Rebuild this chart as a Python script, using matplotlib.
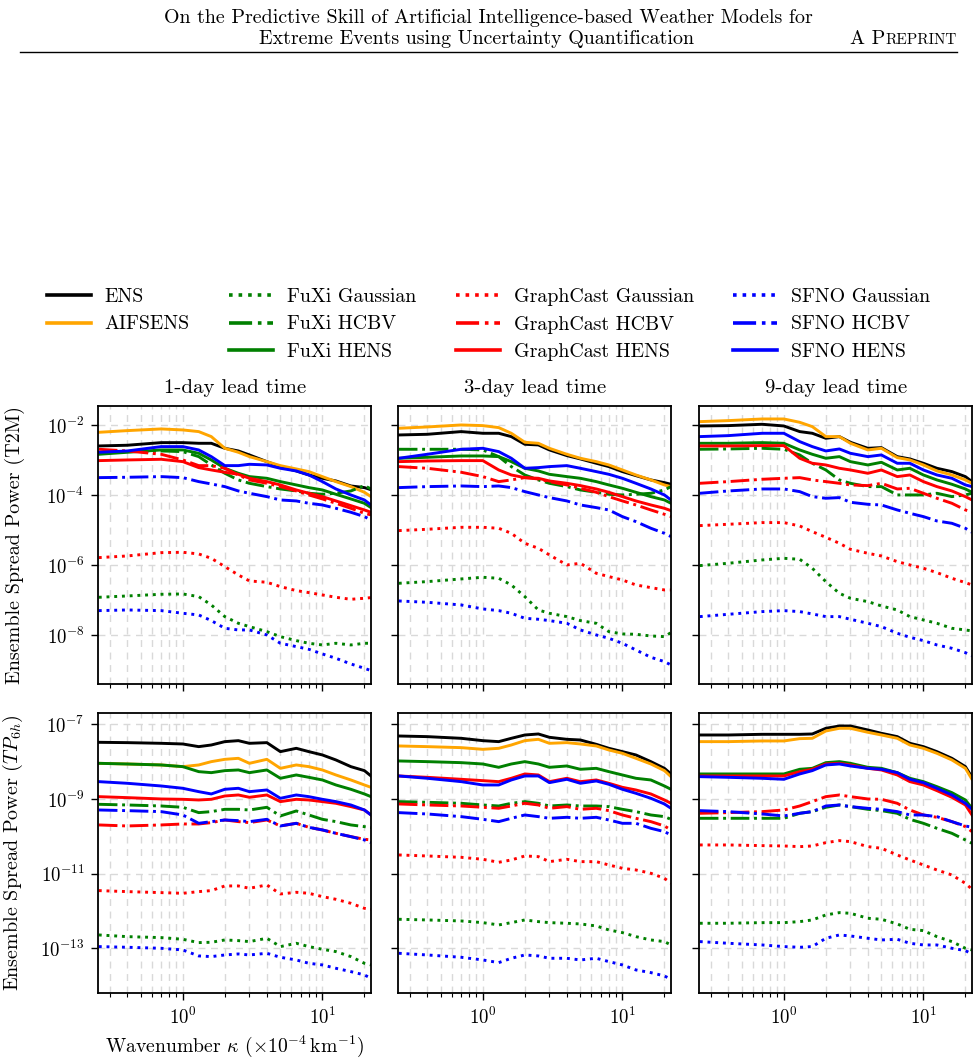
import matplotlib
matplotlib.use("Agg")
import matplotlib.pyplot as plt
from matplotlib.lines import Line2D
import numpy as np

plt.rcParams['font.family'] = ['cmr10', 'DejaVu Serif']
plt.rcParams['mathtext.fontset'] = 'cm'
plt.rcParams['axes.formatter.use_mathtext'] = True
plt.rcParams['axes.unicode_minus'] = False

# ---------------- data (log10 of ensemble spread power) ----------------
wavenumber = [0.25, 0.4, 0.7, 1.0, 1.3, 1.6, 2.0, 2.5, 3.0, 4.0, 5.0, 6.5, 8.0, 10.0, 12.5, 16.0, 20.0, 22.3]

lead_titles = ["1-day lead time", "3-day lead time", "9-day lead time"]
series_labels = ["ENS", "AIFSENS",
                 "FuXi Gaussian", "FuXi HCBV", "FuXi HENS",
                 "GraphCast Gaussian", "GraphCast HCBV", "GraphCast HENS",
                 "SFNO Gaussian", "SFNO HCBV", "SFNO HENS"]

# T2M, 1-day
t2m_d1_ens = [-2.60, -2.58, -2.505, -2.505, -2.524, -2.524, -2.667, -2.743, -2.857, -3.048, -3.19, -3.314, -3.429, -3.524, -3.6, -3.743, -3.79, -3.85]
t2m_d1_aifs = [-2.21, -2.162, -2.114, -2.143, -2.19, -2.333, -2.667, -2.781, -2.905, -3.048, -3.162, -3.257, -3.333, -3.476, -3.619, -3.762, -3.924, -4.048]
t2m_d1_fuxi_gauss = [-6.924, -6.886, -6.838, -6.829, -6.905, -7.143, -7.476, -7.667, -7.762, -7.905, -8.048, -8.162, -8.238, -8.286, -8.238, -8.286, -8.238, -8.238]
t2m_d1_fuxi_hcbv = [-2.81, -2.762, -2.743, -2.762, -2.905, -3.143, -3.381, -3.571, -3.667, -3.762, -3.829, -3.886, -3.952, -3.981, -3.952, -3.886, -3.733, -3.829]
t2m_d1_fuxi_hens = [-2.838, -2.781, -2.714, -2.714, -2.81, -3.0, -3.238, -3.381, -3.476, -3.524, -3.619, -3.714, -3.79, -3.857, -3.981, -4.114, -4.238, -4.362]
t2m_d1_gc_gauss = [-5.79, -5.743, -5.648, -5.638, -5.686, -5.81, -6.048, -6.286, -6.457, -6.495, -6.619, -6.733, -6.79, -6.857, -6.924, -6.981, -6.952, -6.933]
t2m_d1_gc_hcbv = [-2.695, -2.743, -2.838, -3.0, -3.162, -3.162, -3.238, -3.429, -3.571, -3.667, -3.762, -3.886, -4.0, -4.114, -4.238, -4.381, -4.524, -4.571]
t2m_d1_gc_hens = [-3.019, -3.0, -2.981, -3.048, -3.219, -3.286, -3.352, -3.41, -3.524, -3.619, -3.714, -3.857, -3.952, -4.048, -4.171, -4.305, -4.429, -4.495]
t2m_d1_sfno_gauss = [-7.305, -7.286, -7.305, -7.381, -7.429, -7.59, -7.81, -7.857, -7.857, -8.0, -8.238, -8.333, -8.41, -8.543, -8.667, -8.829, -8.952, -9.019]
t2m_d1_sfno_hcbv = [-3.505, -3.495, -3.476, -3.505, -3.619, -3.686, -3.762, -3.886, -3.952, -4.048, -4.143, -4.171, -4.238, -4.286, -4.381, -4.495, -4.619, -4.714]
t2m_d1_sfno_hens = [-2.781, -2.743, -2.619, -2.619, -2.714, -2.905, -3.162, -3.162, -3.124, -3.143, -3.238, -3.314, -3.429, -3.619, -3.829, -4.0, -4.143, -4.286]

# T2M, 3-day
t2m_d3_ens = [-2.286, -2.267, -2.19, -2.238, -2.238, -2.333, -2.552, -2.571, -2.714, -2.876, -2.971, -3.095, -3.19, -3.333, -3.448, -3.571, -3.648, -3.695]
t2m_d3_aifs = [-2.095, -2.057, -2.0, -2.019, -2.076, -2.238, -2.495, -2.524, -2.667, -2.838, -2.952, -3.048, -3.143, -3.286, -3.429, -3.571, -3.714, -3.762]
t2m_d3_fuxi_gauss = [-6.524, -6.476, -6.4, -6.352, -6.381, -6.571, -6.905, -7.286, -7.381, -7.476, -7.59, -7.667, -7.905, -7.971, -7.981, -8.029, -8.048, -7.933]
t2m_d3_fuxi_hcbv = [-2.695, -2.695, -2.695, -2.714, -2.905, -3.19, -3.429, -3.571, -3.667, -3.762, -3.857, -3.924, -3.981, -4.0, -3.981, -3.952, -3.857, -3.762]
t2m_d3_fuxi_hens = [-2.952, -2.924, -2.886, -2.886, -2.905, -3.048, -3.238, -3.314, -3.41, -3.476, -3.524, -3.619, -3.714, -3.81, -3.924, -4.048, -4.143, -4.238]
t2m_d3_gc_gauss = [-5.019, -4.981, -4.924, -4.924, -4.952, -5.095, -5.381, -5.524, -5.714, -6.0, -5.952, -6.238, -6.333, -6.429, -6.571, -6.648, -6.714, -6.714]
t2m_d3_gc_hcbv = [-3.19, -3.238, -3.352, -3.476, -3.619, -3.571, -3.505, -3.543, -3.619, -3.714, -3.81, -3.924, -4.048, -4.171, -4.286, -4.429, -4.552, -4.619]
t2m_d3_gc_hens = [-3.048, -3.029, -3.019, -3.019, -3.286, -3.429, -3.505, -3.524, -3.6, -3.667, -3.733, -3.829, -3.924, -4.048, -4.171, -4.286, -4.381, -4.448]
t2m_d3_sfno_gauss = [-7.029, -7.067, -7.143, -7.257, -7.305, -7.381, -7.524, -7.552, -7.59, -7.667, -7.857, -8.0, -8.095, -8.238, -8.429, -8.638, -8.762, -8.857]
t2m_d3_sfno_hcbv = [-3.79, -3.762, -3.743, -3.762, -3.743, -3.79, -3.905, -4.0, -4.076, -4.171, -4.286, -4.362, -4.429, -4.619, -4.762, -4.952, -5.095, -5.19]
t2m_d3_sfno_hens = [-2.952, -2.838, -2.695, -2.667, -2.762, -2.952, -3.238, -3.219, -3.19, -3.162, -3.238, -3.333, -3.41, -3.524, -3.667, -3.829, -4.0, -4.143]

# T2M, 9-day
t2m_d9_ens = [-2.029, -2.019, -1.981, -2.029, -2.19, -2.238, -2.381, -2.333, -2.495, -2.667, -2.648, -2.905, -2.971, -3.095, -3.238, -3.333, -3.476, -3.619]
t2m_d9_aifs = [-1.905, -1.876, -1.829, -1.829, -1.924, -2.048, -2.333, -2.333, -2.524, -2.714, -2.667, -2.933, -3.0, -3.143, -3.314, -3.429, -3.571, -3.667]
t2m_d9_fuxi_gauss = [-6.019, -5.952, -5.857, -5.81, -5.838, -6.095, -6.476, -6.81, -6.952, -7.048, -7.171, -7.286, -7.476, -7.571, -7.667, -7.81, -7.857, -7.886]
t2m_d9_fuxi_hcbv = [-2.695, -2.686, -2.667, -2.695, -2.857, -3.095, -3.286, -3.571, -3.667, -3.762, -3.762, -4.0, -4.0, -4.0, -3.952, -4.048, -4.0, -3.952]
t2m_d9_fuxi_hens = [-2.524, -2.524, -2.505, -2.524, -2.714, -2.838, -2.952, -2.905, -3.048, -3.143, -3.067, -3.286, -3.238, -3.429, -3.571, -3.695, -3.829, -3.924]
t2m_d9_gc_gauss = [-4.876, -4.838, -4.79, -4.79, -4.886, -5.048, -5.21, -5.381, -5.552, -5.667, -5.743, -5.905, -6.0, -6.095, -6.219, -6.381, -6.505, -6.571]
t2m_d9_gc_hcbv = [-3.667, -3.619, -3.552, -3.524, -3.505, -3.571, -3.619, -3.667, -3.714, -3.733, -3.667, -3.829, -3.81, -3.952, -4.095, -4.238, -4.429, -4.495]
t2m_d9_gc_hens = [-2.6, -2.6, -2.59, -2.59, -2.952, -3.095, -3.143, -3.238, -3.286, -3.381, -3.286, -3.476, -3.429, -3.619, -3.762, -3.886, -4.048, -4.143]
t2m_d9_sfno_gauss = [-7.476, -7.41, -7.333, -7.305, -7.333, -7.4, -7.476, -7.476, -7.552, -7.667, -7.762, -7.952, -8.067, -8.162, -8.286, -8.381, -8.505, -8.6]
t2m_d9_sfno_hcbv = [-3.952, -3.886, -3.829, -3.829, -3.905, -4.048, -4.095, -4.076, -4.21, -4.267, -4.286, -4.429, -4.524, -4.619, -4.743, -4.81, -4.952, -5.067]
t2m_d9_sfno_hens = [-2.333, -2.305, -2.238, -2.238, -2.476, -2.619, -2.743, -2.686, -2.81, -2.905, -2.857, -3.095, -3.095, -3.286, -3.429, -3.524, -3.714, -3.762]

# TP6h, 1-day
tp_d1_ens = [-7.482, -7.491, -7.509, -7.527, -7.598, -7.554, -7.464, -7.438, -7.509, -7.491, -7.732, -7.643, -7.732, -7.821, -7.955, -8.134, -8.241, -8.384]
tp_d1_aifs = [-8.045, -8.063, -8.089, -8.134, -8.089, -8.0, -7.938, -7.911, -8.045, -7.938, -8.179, -8.089, -8.134, -8.223, -8.357, -8.491, -8.625, -8.688]
tp_d1_fuxi_gauss = [-12.643, -12.688, -12.714, -12.759, -12.848, -12.839, -12.777, -12.795, -12.821, -12.732, -12.955, -12.866, -12.955, -13.027, -13.089, -13.223, -13.402, -13.446]
tp_d1_fuxi_hcbv = [-9.143, -9.161, -9.188, -9.223, -9.366, -9.339, -9.277, -9.277, -9.295, -9.223, -9.455, -9.321, -9.429, -9.545, -9.607, -9.696, -9.741, -9.768]
tp_d1_fuxi_hens = [-8.045, -8.063, -8.089, -8.134, -8.268, -8.295, -8.241, -8.223, -8.295, -8.223, -8.446, -8.357, -8.42, -8.491, -8.625, -8.741, -8.866, -8.938]
tp_d1_gc_gauss = [-11.455, -11.482, -11.509, -11.527, -11.482, -11.455, -11.33, -11.33, -11.393, -11.304, -11.545, -11.5, -11.527, -11.616, -11.688, -11.795, -11.929, -11.955]
tp_d1_gc_hcbv = [-9.696, -9.723, -9.696, -9.67, -9.67, -9.634, -9.563, -9.607, -9.634, -9.563, -9.723, -9.652, -9.759, -9.83, -9.92, -10.009, -10.08, -10.098]
tp_d1_gc_hens = [-8.938, -8.964, -9.0, -9.009, -9.027, -9.009, -8.92, -8.893, -8.955, -8.893, -9.071, -9.009, -9.027, -9.071, -9.116, -9.205, -9.295, -9.429]
tp_d1_sfno_gauss = [-12.955, -12.973, -13.0, -13.045, -13.205, -13.223, -13.179, -13.152, -13.179, -13.134, -13.241, -13.313, -13.402, -13.446, -13.536, -13.625, -13.714, -13.804]
tp_d1_sfno_hcbv = [-9.295, -9.313, -9.339, -9.429, -9.652, -9.607, -9.563, -9.58, -9.607, -9.545, -9.723, -9.652, -9.759, -9.83, -9.92, -10.009, -10.098, -10.17]
tp_d1_sfno_hens = [-8.536, -8.58, -8.652, -8.714, -8.804, -8.866, -8.741, -8.714, -8.804, -8.759, -8.982, -8.893, -8.938, -9.009, -9.071, -9.161, -9.295, -9.429]

# TP6h, 3-day
tp_d3_ens = [-7.313, -7.33, -7.375, -7.438, -7.464, -7.375, -7.286, -7.259, -7.348, -7.402, -7.42, -7.536, -7.643, -7.732, -7.821, -8.0, -8.179, -8.33]
tp_d3_aifs = [-7.58, -7.598, -7.625, -7.67, -7.643, -7.554, -7.438, -7.402, -7.509, -7.491, -7.527, -7.58, -7.688, -7.777, -7.911, -8.063, -8.241, -8.402]
tp_d3_fuxi_gauss = [-12.223, -12.241, -12.268, -12.313, -12.375, -12.313, -12.241, -12.286, -12.313, -12.33, -12.348, -12.402, -12.509, -12.58, -12.688, -12.777, -12.821, -12.911]
tp_d3_fuxi_hcbv = [-9.071, -9.089, -9.116, -9.161, -9.188, -9.116, -9.071, -9.116, -9.188, -9.161, -9.188, -9.188, -9.205, -9.277, -9.339, -9.429, -9.473, -9.545]
tp_d3_fuxi_hens = [-7.982, -8.0, -8.027, -8.063, -8.152, -8.063, -8.0, -8.063, -8.152, -8.116, -8.205, -8.179, -8.268, -8.357, -8.446, -8.491, -8.652, -8.741]
tp_d3_gc_gauss = [-10.5, -10.527, -10.563, -10.616, -10.696, -10.634, -10.527, -10.545, -10.679, -10.616, -10.679, -10.679, -10.768, -10.857, -10.902, -10.991, -11.125, -11.259]
tp_d3_gc_hcbv = [-9.134, -9.161, -9.188, -9.223, -9.25, -9.188, -9.116, -9.161, -9.25, -9.205, -9.277, -9.25, -9.313, -9.429, -9.518, -9.607, -9.723, -9.83]
tp_d3_gc_hens = [-8.384, -8.42, -8.473, -8.509, -8.536, -8.446, -8.33, -8.357, -8.536, -8.446, -8.536, -8.491, -8.58, -8.688, -8.759, -8.866, -9.027, -9.116]
tp_d3_sfno_gauss = [-13.134, -13.179, -13.241, -13.313, -13.384, -13.268, -13.179, -13.205, -13.268, -13.268, -13.313, -13.268, -13.357, -13.446, -13.58, -13.652, -13.741, -13.83]
tp_d3_sfno_hcbv = [-9.366, -9.402, -9.473, -9.545, -9.607, -9.518, -9.429, -9.473, -9.518, -9.491, -9.518, -9.491, -9.563, -9.652, -9.652, -9.786, -9.875, -9.964]
tp_d3_sfno_hens = [-8.384, -8.446, -8.536, -8.625, -8.625, -8.491, -8.384, -8.384, -8.563, -8.473, -8.58, -8.518, -8.607, -8.741, -8.848, -8.982, -9.134, -9.25]

# TP6h, 9-day
tp_d9_ens = [-7.286, -7.286, -7.268, -7.268, -7.268, -7.259, -7.107, -7.045, -7.045, -7.152, -7.241, -7.33, -7.509, -7.598, -7.732, -7.911, -8.134, -8.42]
tp_d9_aifs = [-7.464, -7.464, -7.446, -7.446, -7.384, -7.375, -7.179, -7.107, -7.107, -7.214, -7.286, -7.375, -7.554, -7.643, -7.777, -7.955, -8.179, -8.473]
tp_d9_fuxi_gauss = [-12.33, -12.33, -12.313, -12.313, -12.286, -12.241, -12.107, -12.045, -12.063, -12.196, -12.223, -12.348, -12.491, -12.527, -12.688, -12.821, -13.0, -13.045]
tp_d9_fuxi_hcbv = [-9.518, -9.518, -9.518, -9.518, -9.384, -9.339, -9.223, -9.161, -9.205, -9.277, -9.313, -9.384, -9.545, -9.652, -9.786, -9.92, -10.098, -10.188]
tp_d9_fuxi_hens = [-8.33, -8.33, -8.33, -8.33, -8.205, -8.179, -8.027, -8.0, -8.045, -8.152, -8.179, -8.295, -8.446, -8.536, -8.67, -8.83, -9.027, -9.25]
tp_d9_gc_gauss = [-10.232, -10.232, -10.25, -10.259, -10.277, -10.259, -10.17, -10.116, -10.143, -10.277, -10.321, -10.5, -10.634, -10.768, -10.902, -11.036, -11.259, -11.42]
tp_d9_gc_hcbv = [-9.384, -9.366, -9.339, -9.295, -9.188, -9.071, -8.938, -8.893, -8.938, -9.0, -9.009, -9.116, -9.295, -9.429, -9.491, -9.607, -9.741, -9.875]
tp_d9_gc_hens = [-8.384, -8.384, -8.384, -8.384, -8.268, -8.205, -8.063, -8.045, -8.089, -8.179, -8.223, -8.357, -8.536, -8.625, -8.777, -8.955, -9.161, -9.429]
tp_d9_sfno_gauss = [-12.821, -12.866, -12.911, -12.955, -12.973, -12.955, -12.732, -12.643, -12.67, -12.732, -12.777, -12.759, -12.866, -12.911, -12.911, -13.0, -13.063, -13.152]
tp_d9_sfno_hcbv = [-9.313, -9.339, -9.402, -9.455, -9.384, -9.339, -9.188, -9.161, -9.205, -9.25, -9.277, -9.339, -9.429, -9.429, -9.473, -9.607, -9.723, -9.759]
tp_d9_sfno_hens = [-8.402, -8.42, -8.446, -8.473, -8.33, -8.241, -8.089, -8.063, -8.116, -8.179, -8.205, -8.295, -8.473, -8.563, -8.714, -8.893, -9.116, -9.277]

panels = [
    [t2m_d1_ens, t2m_d1_aifs, t2m_d1_fuxi_gauss, t2m_d1_fuxi_hcbv, t2m_d1_fuxi_hens, t2m_d1_gc_gauss, t2m_d1_gc_hcbv, t2m_d1_gc_hens, t2m_d1_sfno_gauss, t2m_d1_sfno_hcbv, t2m_d1_sfno_hens],
    [t2m_d3_ens, t2m_d3_aifs, t2m_d3_fuxi_gauss, t2m_d3_fuxi_hcbv, t2m_d3_fuxi_hens, t2m_d3_gc_gauss, t2m_d3_gc_hcbv, t2m_d3_gc_hens, t2m_d3_sfno_gauss, t2m_d3_sfno_hcbv, t2m_d3_sfno_hens],
    [t2m_d9_ens, t2m_d9_aifs, t2m_d9_fuxi_gauss, t2m_d9_fuxi_hcbv, t2m_d9_fuxi_hens, t2m_d9_gc_gauss, t2m_d9_gc_hcbv, t2m_d9_gc_hens, t2m_d9_sfno_gauss, t2m_d9_sfno_hcbv, t2m_d9_sfno_hens],
    [tp_d1_ens, tp_d1_aifs, tp_d1_fuxi_gauss, tp_d1_fuxi_hcbv, tp_d1_fuxi_hens, tp_d1_gc_gauss, tp_d1_gc_hcbv, tp_d1_gc_hens, tp_d1_sfno_gauss, tp_d1_sfno_hcbv, tp_d1_sfno_hens],
    [tp_d3_ens, tp_d3_aifs, tp_d3_fuxi_gauss, tp_d3_fuxi_hcbv, tp_d3_fuxi_hens, tp_d3_gc_gauss, tp_d3_gc_hcbv, tp_d3_gc_hens, tp_d3_sfno_gauss, tp_d3_sfno_hcbv, tp_d3_sfno_hens],
    [tp_d9_ens, tp_d9_aifs, tp_d9_fuxi_gauss, tp_d9_fuxi_hcbv, tp_d9_fuxi_hens, tp_d9_gc_gauss, tp_d9_gc_hcbv, tp_d9_gc_hens, tp_d9_sfno_gauss, tp_d9_sfno_hcbv, tp_d9_sfno_hens],
]

# ---------------- styles ----------------
colors = ["black", "orange", "green", "green", "green", "red", "red", "red", "blue", "blue", "blue"]
styles = ["-", "-", ":", "-.", "-", ":", "-.", "-", ":", "-.", "-"]
LW = 2.1

W, H = 979, 1061
fig = plt.figure(figsize=(W / 100, H / 100), dpi=100)

def fx(px):
    return px / W

def fy(py):
    return 1 - py / H

col_left = [98.3, 398.3, 699.3]
ax_w = 272.7
row_top = [405.7, 713.3]
ax_h = [278.6, 279.4]
ylims = [(10 ** -9.41, 10 ** -1.45), (10 ** -14.19, 10 ** -6.705)]
yticks = [[1e-2, 1e-4, 1e-6, 1e-8], [1e-7, 1e-9, 1e-11, 1e-13]]
ylabels = ["Ensemble Spread Power (T2M)", r"Ensemble Spread Power ($TP_{6h}$)"]

axes = []
for r in range(2):
    for c in range(3):
        ax = fig.add_axes([fx(col_left[c]), fy(row_top[r] + ax_h[r]), fx(ax_w), ax_h[r] / H])
        axes.append(ax)
        data = panels[r * 3 + c]
        for vals, col, ls in zip(data, colors, styles):
            ax.plot(wavenumber, np.power(10.0, vals), color=col, linestyle=ls, linewidth=LW)
        ax.set_xscale("log")
        ax.set_yscale("log")
        ax.set_xlim(0.248, 22.3)
        ax.set_ylim(*ylims[r])
        ax.set_yticks(yticks[r])
        ax.yaxis.set_minor_locator(matplotlib.ticker.NullLocator())
        ax.grid(True, which="major", axis="both", linestyle=(0, (5, 4)), color="#d9d9d9", linewidth=1.0)
        ax.grid(True, which="minor", axis="x", linestyle=(0, (5, 4)), color="#d9d9d9", linewidth=1.0)
        ax.set_axisbelow(True)
        ax.tick_params(axis="both", which="major", labelsize=13.5, length=5, width=1.0, pad=5)
        ax.tick_params(axis="x", which="minor", length=3, width=0.8)
        for sp in ax.spines.values():
            sp.set_linewidth(1.3)
        if r == 0:
            ax.set_title(lead_titles[c], fontsize=15, pad=9)
            ax.tick_params(axis="x", which="both", labelbottom=False)
        if c != 0:
            ax.tick_params(axis="y", labelleft=False)
        else:
            ax.set_ylabel(ylabels[r], fontsize=14.5)
        if r == 1 and c == 0:
            ax.set_xlabel(r"Wavenumber $\kappa$ ($\times 10^{-4}\,\mathrm{km}^{-1}$)", fontsize=14.2, labelpad=4)

# align y labels (right edge of rotated label ~ x=24 px)
for r in range(2):
    axes[r * 3].yaxis.set_label_coords(-(98.3 - 25) / ax_w, 0.5)

# ---------------- legend ----------------
handles = []
labels = []
for lab, col, ls in zip(series_labels, colors, styles):
    handles.append(Line2D([], [], color=col, linestyle=ls, linewidth=2.6))
    labels.append(lab)
blank = Line2D([], [], color="none")
handles = handles[:2] + [blank] + handles[2:]
labels = labels[:2] + [""] + labels[2:]
fig.legend(handles, labels, ncol=4, loc="upper left", bbox_to_anchor=(fx(47), fy(288)),
           frameon=False, fontsize=14.3, handlelength=2.2, handletextpad=0.7,
           columnspacing=2.0, labelspacing=0.48, borderaxespad=0, borderpad=0)

# ---------------- page header ----------------
fig.text(fx(488), fy(18), "On the Predictive Skill of Artificial Intelligence-based Weather Models for",
         ha="center", va="center", fontsize=14.4)
fig.text(fx(477), fy(39), "Extreme Events using Uncertainty Quantification",
         ha="center", va="center", fontsize=14.4)
t2 = fig.text(fx(957), fy(44), "REPRINT", ha="right", va="baseline", fontsize=11)
fig.canvas.draw()
bb = t2.get_window_extent()
fig.text(bb.x0 / W, fy(44), "A P", ha="right", va="baseline", fontsize=14.4)
fig.add_artist(Line2D([fx(20), fx(957)], [fy(52), fy(52)], color="black", linewidth=1.0))

fig.savefig("out.png", dpi=100)
